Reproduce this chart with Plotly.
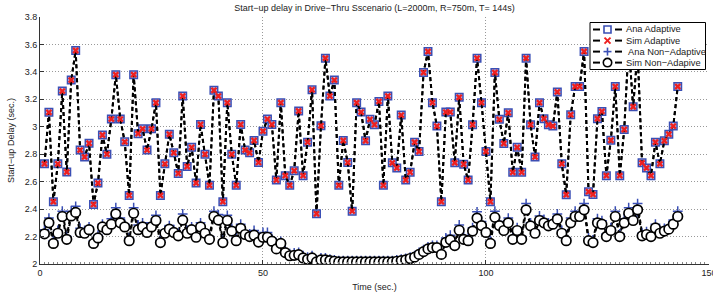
import plotly.graph_objects as go

time_s = list(range(1, 144))

ana_adaptive = [
    2.73, 3.105, 2.454, 2.73, 3.26, 2.67, 3.34, 3.556, 2.83, 2.78,
    2.88, 2.434, 2.59, 2.94, 2.80, 3.056, 3.38, 3.056, 2.89, 2.50,
    3.38, 2.95, 2.985, 2.83, 2.985, 3.175, 2.50, 2.73, 2.946, 2.81,
    2.66, 3.224, 2.71, 2.85, 2.59, 3.017, 2.80, 2.573, 3.266, 3.224,
    2.454, 3.176, 2.80, 2.573, 3.017, 2.83, 2.81, 2.90, 2.74, 2.968,
    3.056, 3.017, 2.612, 3.176, 2.644, 2.573, 2.68, 3.115, 2.644, 2.888,
    3.27, 2.366, 3.007, 3.50, 3.224, 3.34, 2.573, 2.90, 2.74, 2.385,
    3.176, 3.107, 2.898, 3.054, 3.015, 3.185, 2.573, 3.224, 2.737, 2.70,
    3.085, 2.612, 2.668, 2.888, 2.82, 3.395, 3.549, 3.176, 3.005, 2.454,
    3.107, 3.107, 2.737, 3.215, 2.727, 2.612, 3.015, 3.50, 3.176, 2.82,
    2.454, 3.395, 3.054, 2.878, 3.102, 2.668, 2.85, 2.668, 3.50, 3.015,
    2.78, 3.176, 3.059, 3.015, 3.005, 3.254, 2.73, 2.505, 3.088, 3.293,
    3.293, 3.549, 2.527, 2.507, 3.059, 3.112, 2.644, 2.902, 3.293, 2.644,
    2.98, 3.60, 3.146, 3.55, 2.737, 2.70, 2.644, 2.888, 2.73, 2.898,
    2.946, 3.005, 3.293,
]

sim_adaptive = [
    2.73, 3.105, 2.454, 2.73, 3.26, 2.67, 3.34, 3.556, 2.83, 2.78,
    2.88, 2.434, 2.59, 2.94, 2.80, 3.056, 3.38, 3.056, 2.89, 2.50,
    3.38, 2.95, 2.985, 2.83, 2.985, 3.175, 2.50, 2.73, 2.946, 2.81,
    2.66, 3.224, 2.71, 2.85, 2.59, 3.017, 2.80, 2.573, 3.266, 3.224,
    2.454, 3.176, 2.80, 2.573, 3.017, 2.83, 2.81, 2.90, 2.74, 2.968,
    3.056, 3.017, 2.612, 3.176, 2.644, 2.573, 2.68, 3.115, 2.644, 2.888,
    3.27, 2.366, 3.007, 3.50, 3.224, 3.34, 2.573, 2.90, 2.74, 2.385,
    3.176, 3.107, 2.898, 3.054, 3.015, 3.185, 2.573, 3.224, 2.737, 2.70,
    3.085, 2.612, 2.668, 2.888, 2.82, 3.395, 3.549, 3.176, 3.005, 2.454,
    3.107, 3.107, 2.737, 3.215, 2.727, 2.612, 3.015, 3.50, 3.176, 2.82,
    2.454, 3.395, 3.054, 2.878, 3.102, 2.668, 2.85, 2.668, 3.50, 3.015,
    2.78, 3.176, 3.059, 3.015, 3.005, 3.254, 2.73, 2.505, 3.088, 3.293,
    3.293, 3.549, 2.527, 2.507, 3.059, 3.112, 2.644, 2.902, 3.293, 2.644,
    2.98, 3.60, 3.146, 3.55, 2.737, 2.70, 2.644, 2.888, 2.73, 2.898,
    2.946, 3.005, 3.293,
]

ana_non_adaptive = [
    2.25, 2.335, 2.17, 2.245, 2.385, 2.20, 2.385, 2.42, 2.26, 2.245,
    2.27, 2.17, 2.21, 2.29, 2.27, 2.33, 2.41, 2.335, 2.29, 2.19,
    2.41, 2.285, 2.30, 2.25, 2.30, 2.355, 2.175, 2.245, 2.28, 2.25,
    2.225, 2.365, 2.245, 2.27, 2.215, 2.30, 2.245, 2.20, 2.385, 2.36,
    2.175, 2.355, 2.26, 2.19, 2.29, 2.235, 2.22, 2.245, 2.18, 2.23,
    2.23, 2.185, 2.13, 2.165, 2.10, 2.075, 2.08, 2.085, 2.06, 2.05,
    2.06, 2.03, 2.045, 2.045, 2.035, 2.03, 2.025, 2.025, 2.025, 2.025,
    2.025, 2.025, 2.025, 2.025, 2.025, 2.025, 2.025, 2.025, 2.025, 2.03,
    2.035, 2.04, 2.05, 2.06, 2.085, 2.105, 2.125, 2.135, 2.135, 2.085,
    2.19, 2.21, 2.15, 2.285, 2.20, 2.19, 2.265, 2.38, 2.31, 2.25,
    2.17, 2.385, 2.31, 2.265, 2.335, 2.20, 2.265, 2.20, 2.44, 2.30,
    2.245, 2.35, 2.325, 2.30, 2.315, 2.365, 2.245, 2.19, 2.335, 2.385,
    2.38, 2.44, 2.19, 2.175, 2.33, 2.315, 2.22, 2.265, 2.385, 2.22,
    2.33, 2.41, 2.35, 2.44, 2.225, 2.235, 2.22, 2.29, 2.245, 2.26,
    2.28, 2.32, 2.385,
]

sim_non_adaptive = [
    2.22, 2.30, 2.15, 2.224, 2.346, 2.18, 2.35, 2.376, 2.23, 2.224,
    2.25, 2.15, 2.19, 2.27, 2.25, 2.29, 2.366, 2.30, 2.27, 2.17,
    2.37, 2.25, 2.27, 2.23, 2.27, 2.317, 2.156, 2.224, 2.254, 2.23,
    2.205, 2.32, 2.224, 2.25, 2.195, 2.27, 2.224, 2.18, 2.346, 2.32,
    2.156, 2.317, 2.24, 2.17, 2.26, 2.215, 2.20, 2.21, 2.16, 2.195,
    2.195, 2.166, 2.11, 2.15, 2.083, 2.06, 2.063, 2.068, 2.044, 2.034,
    2.044, 2.015, 2.03, 2.03, 2.025, 2.02, 2.015, 2.015, 2.015, 2.015,
    2.015, 2.015, 2.015, 2.015, 2.015, 2.015, 2.015, 2.015, 2.015, 2.02,
    2.025, 2.03, 2.04, 2.05, 2.07, 2.09, 2.11, 2.12, 2.12, 2.07,
    2.158, 2.176, 2.134, 2.246, 2.18, 2.17, 2.24, 2.335, 2.28, 2.23,
    2.15, 2.34, 2.28, 2.244, 2.30, 2.18, 2.244, 2.18, 2.395, 2.278,
    2.224, 2.317, 2.30, 2.278, 2.29, 2.327, 2.224, 2.17, 2.30, 2.346,
    2.346, 2.395, 2.17, 2.156, 2.30, 2.29, 2.20, 2.244, 2.346, 2.20,
    2.30, 2.37, 2.317, 2.395, 2.205, 2.215, 2.20, 2.263, 2.224, 2.24,
    2.254, 2.29, 2.346,
]

series_names = ["Ana Adaptive", "Sim Adaptive", " Ana Non\u2212Adaptive", "Sim Non\u2212Adapive"]
x_ticks = [0, 50, 100, 150]
y_ticks = [2, 2.2, 2.4, 2.6, 2.8, 3, 3.2, 3.4, 3.6, 3.8]

FONT = "Liberation Sans, Arial, Helvetica, sans-serif"
BLUE = "#3a4fb5"
RED = "#ee2020"
dash_line = dict(color="black", width=2, dash="4px,3px")

# Page body margin is removed by post_script, so figure = window.
W, H = 713, 295
ML, MR, MT, MB = 40, 4, 17, 31
PW, PH = W - ML - MR, H - MT - MB


def pxx(page_x):
    return (page_x - ML) / PW


def pxy(page_y):
    return 1 - (page_y - MT) / PH


fig = go.Figure()
fig.add_trace(go.Scatter(
    x=time_s, y=ana_adaptive, name=series_names[0], mode="lines+markers",
    line=dash_line,
    marker=dict(symbol="square", size=7.5, color="#b9c3ee", line=dict(color=BLUE, width=1.5)),
))
fig.add_trace(go.Scatter(
    x=time_s, y=sim_adaptive, name=series_names[1], mode="lines+markers",
    line=dash_line,
    marker=dict(symbol="x", size=6, color=RED, line=dict(width=0)),
))
fig.add_trace(go.Scatter(
    x=time_s, y=ana_non_adaptive, name=series_names[2], mode="lines+markers",
    line=dash_line,
    marker=dict(symbol="cross-thin", size=7, color=BLUE, line=dict(color=BLUE, width=1.5)),
))
fig.add_trace(go.Scatter(
    x=time_s, y=sim_non_adaptive, name=series_names[3], mode="lines+markers",
    line=dash_line,
    marker=dict(symbol="circle", size=9.5, color="white", line=dict(color="black", width=1.7)),
))

# Compact legend box (drawn as shapes + text, like the MATLAB legend)
shapes = []
annotations = []
box = dict(x0=590, x1=705.5, y0=22.5, y1=69.5)
shapes.append(dict(type="rect", xref="paper", yref="paper", layer="above",
                   x0=pxx(box["x0"]), x1=pxx(box["x1"]), y0=pxy(box["y1"]), y1=pxy(box["y0"]),
                   fillcolor="white", line=dict(color="black", width=1)))
row_y = [29.5, 40.6, 51.6, 62.6]
mx = 607.5
for i, (name, yy) in enumerate(zip(series_names, row_y)):
    for (a, b) in [(593, 600), (615, 622)]:
        shapes.append(dict(type="line", xref="paper", yref="paper", layer="above",
                           x0=pxx(a), x1=pxx(b), y0=pxy(yy), y1=pxy(yy),
                           line=dict(color="black", width=2)))
    if i == 0:
        shapes.append(dict(type="rect", xref="paper", yref="paper", layer="above",
                           x0=pxx(mx - 3.5), x1=pxx(mx + 3.5), y0=pxy(yy + 3.5), y1=pxy(yy - 3.5),
                           fillcolor="white", line=dict(color=BLUE, width=1.6)))
    elif i == 1:
        for (dy0, dy1) in [(-3, 3), (3, -3)]:
            shapes.append(dict(type="line", xref="paper", yref="paper", layer="above",
                               x0=pxx(mx - 3), x1=pxx(mx + 3), y0=pxy(yy + dy0), y1=pxy(yy + dy1),
                               line=dict(color=RED, width=2)))
    elif i == 2:
        shapes.append(dict(type="line", xref="paper", yref="paper", layer="above",
                           x0=pxx(mx - 4), x1=pxx(mx + 4), y0=pxy(yy), y1=pxy(yy),
                           line=dict(color=BLUE, width=1.6)))
        shapes.append(dict(type="line", xref="paper", yref="paper", layer="above",
                           x0=pxx(mx), x1=pxx(mx), y0=pxy(yy - 4), y1=pxy(yy + 4),
                           line=dict(color=BLUE, width=1.6)))
    else:
        shapes.append(dict(type="circle", xref="paper", yref="paper", layer="above",
                           x0=pxx(mx - 4.2), x1=pxx(mx + 4.2), y0=pxy(yy + 4.2), y1=pxy(yy - 4.2),
                           fillcolor="white", line=dict(color="black", width=1.6)))
    annotations.append(dict(xref="paper", yref="paper", x=pxx(624), y=pxy(yy),
                            xanchor="left", yanchor="middle", showarrow=False, text=name,
                            font=dict(family=FONT, size=9.3, color="#222")))

fig.update_layout(
    width=W, height=H,
    margin=dict(l=ML, r=MR, t=MT, b=MB, autoexpand=False),
    paper_bgcolor="white", plot_bgcolor="white",
    font=dict(family=FONT, size=9, color="#222"),
    title=dict(text="Start\u2212up delay in Drive\u2212Thru Sscenario (L=2000m, R=750m, T= 144s)",
               x=0.5, xanchor="center", xref="paper", y=1 - 7.5 / H, yref="container",
               yanchor="middle",
               font=dict(size=9, family=FONT, color="#222")),
    showlegend=False,
    shapes=shapes,
    annotations=annotations,
)
fig.update_xaxes(
    range=[0, 150.01], tickvals=x_ticks, ticktext=[str(v) for v in x_ticks],
    showline=True, linecolor="#333", linewidth=1, mirror=False,
    ticks="inside", ticklen=4, tickcolor="#333",
    showgrid=True, gridcolor="#999999", griddash="1px,2px", gridwidth=1,
    zeroline=False, automargin=False, ticklabeloverflow="allow",
    tickfont=dict(size=9, family=FONT),
    minor=dict(ticks="inside", dtick=1, ticklen=2, tickcolor="#888", showgrid=False),
    title=dict(text="Time (sec.)", standoff=6, font=dict(size=9, family=FONT)),
)
fig.update_yaxes(
    range=[2, 3.8], tickvals=y_ticks, ticktext=[("%g" % v) for v in y_ticks],
    showline=True, linecolor="#333", linewidth=1, mirror=False,
    ticks="inside", ticklen=4, tickcolor="#333",
    showgrid=True, gridcolor="#999999", griddash="1px,2px", gridwidth=1,
    zeroline=False, automargin=False,
    tickfont=dict(size=9, family=FONT),
    title=dict(text="Start\u2212up Delay (sec.)", standoff=8, font=dict(size=9, family=FONT)),
)

fig.write_html("out.html", config={"displayModeBar": False},
               post_script="document.body.style.margin='0';")
